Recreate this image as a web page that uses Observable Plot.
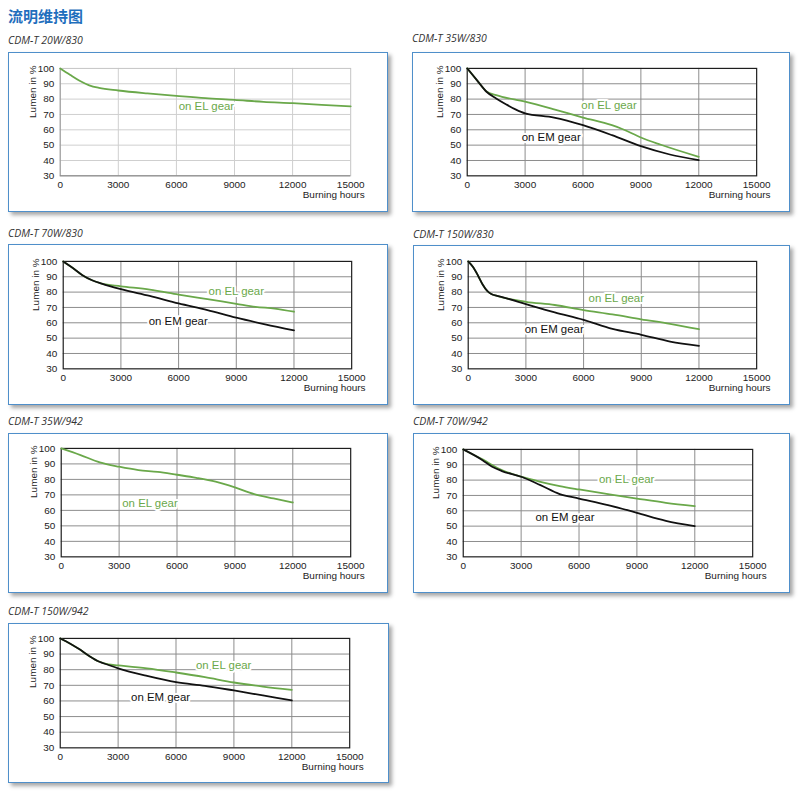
<!DOCTYPE html>
<html>
<head>
<meta charset="utf-8">
<script src="https://cdn.jsdelivr.net/npm/d3@7"></script>
<script src="https://cdn.jsdelivr.net/npm/@observablehq/plot@0.6"></script>
<style>
  body { margin: 0; background: #fff; width: 800px; height: 799px; position: relative; overflow: hidden; }
  .hdr { position: absolute; left: 8px; top: 6px; font-family: "Noto Sans CJK SC", sans-serif; font-weight: 700; font-size: 15px; color: #1f6fbd; line-height: 20px; }
  .ttl { position: absolute; font-family: "Open Sans", "Lato", sans-serif; font-style: italic; font-size: 10.5px; color: #333; line-height: 14px; }
  .box { position: absolute; box-sizing: border-box; border: 1.5px solid #4f8fca; background: #fff; box-shadow: 3px 3px 4px rgba(0,0,0,0.35); }
  .box svg { position: absolute; left: -1.5px; top: -1.5px; }
</style>
</head>
<body>
<div class="hdr">流明维持图</div>
<script>
// ---------- data ----------
const panelTitles = ["CDM-T 20W/830", "CDM-T 35W/830", "CDM-T 70W/830", "CDM-T 150W/830", "CDM-T 35W/942", "CDM-T 70W/942", "CDM-T 150W/942"];
const xTicks = [0, 3000, 6000, 9000, 12000, 15000];
const yTicks = [30, 40, 50, 60, 70, 80, 90, 100];

// CDM-T 20W/830
const p1ELHours = [0, 500, 1000, 1500, 2000, 3000, 4500, 6000, 7500, 9000, 10500, 12000, 13500, 15000];
const p1EL = [100, 95.9, 92, 89, 87.3, 85.6, 83.7, 82.1, 80.6, 79.5, 78.2, 77.4, 76.3, 75.3];
// CDM-T 35W/830
const p2EMHours = [0, 500, 1000, 1500, 2000, 2500, 3000, 4500, 6000, 7500, 9000, 10500, 12000];
const p2EM = [100, 92.4, 84.8, 80.4, 76.7, 73.3, 70.7, 68, 63, 56.5, 49.3, 43.9, 40.2];
const p2ELHours = [0, 500, 1000, 1500, 3000, 4500, 6000, 7500, 8000, 9000, 10000, 12000];
const p2EL = [100, 92.4, 85, 82.6, 78.3, 73.3, 68, 63, 60.7, 55, 50.4, 42.4];
// CDM-T 70W/830
const p3EMHours = [0, 500, 1000, 1500, 2000, 3000, 4500, 6000, 7500, 9000, 10500, 12000];
const p3EM = [100, 95.7, 91, 87.7, 85.5, 81.9, 77.5, 72.6, 68.3, 63.3, 59, 55.1];
const p3ELHours = [0, 500, 1000, 1500, 2000, 3000, 4500, 6000, 7500, 9000, 10000, 11000, 12000];
const p3EL = [100, 95.7, 91, 87.7, 85.5, 83.8, 81.6, 78.4, 75.4, 72.4, 70.4, 69.3, 67.2];
// CDM-T 150W/830
const p4EMHours = [0, 250, 500, 750, 1000, 1200, 1500, 2000, 3000, 4500, 6000, 7500, 9000, 10500, 12000];
const p4EM = [100, 96.3, 91, 85, 80.6, 78.7, 77.6, 75.9, 72.2, 66.8, 61.9, 56, 52.2, 47.8, 45];
const p4ELHours = [0, 250, 500, 750, 1000, 1200, 1500, 2000, 3000, 4500, 6000, 7500, 9000, 10500, 12000];
const p4EL = [100, 96.3, 91, 85, 80.6, 78.7, 77.6, 75.9, 73.7, 71.6, 68.3, 65.5, 62.3, 59.3, 55.8];
// CDM-T 35W/942
const p5ELHours = [0, 1000, 2000, 3000, 4000, 5000, 6000, 7000, 8000, 9000, 10000, 11000, 12000];
const p5EL = [100, 95.7, 91, 88.2, 86, 84.9, 83, 81, 78.5, 74.8, 70.5, 67.7, 65.1];
// CDM-T 70W/942
const p6EMHours = [0, 1000, 1500, 2000, 3000, 4000, 5000, 6000, 7500, 9000, 10500, 12000];
const p6EM = [100, 93, 88.7, 85.9, 82.2, 76.7, 70.9, 68, 63.7, 58.7, 53.5, 50];
const p6ELHours = [0, 1000, 2000, 3000, 4000, 5000, 6000, 7500, 9000, 10500, 12000];
const p6EL = [100, 93.5, 86.5, 82.2, 78.9, 76.1, 73.9, 70.9, 68, 65.2, 63];
// CDM-T 150W/942
const p7EMHours = [0, 500, 1000, 1500, 2000, 2500, 3000, 4500, 6000, 7500, 9000, 10500, 12000];
const p7EM = [100, 96.8, 93, 88.8, 85.2, 83, 80.9, 76, 72, 69.7, 66.7, 63.5, 60.3];
const p7ELHours = [0, 500, 1000, 1500, 2000, 2500, 3000, 4500, 6000, 7500, 9000, 10500, 12000];
const p7EL = [100, 96.8, 93, 88.8, 85.2, 83.4, 82.8, 80.9, 78.2, 75.2, 71.8, 69.2, 67.1];

// label anchors [hours, lumen]
const elLabelPos = [[7550, 75.4], [7350, 76.1], [9000, 80.5], [7700, 75.9], [4600, 64.5], [8470, 80.4], [8470, 82.6]];
const emLabelPos = [null, [4350, 55], [5980, 60.7], [4470, 55.8], null, [5270, 55.7], [5200, 62.5]];

const elSeries = [[p1ELHours, p1EL], [p2ELHours, p2EL], [p3ELHours, p3EL], [p4ELHours, p4EL], [p5ELHours, p5EL], [p6ELHours, p6EL], [p7ELHours, p7EL]];
const emSeries = [null, [p2EMHours, p2EM], [p3EMHours, p3EM], [p4EMHours, p4EM], null, [p6EMHours, p6EM], [p7EMHours, p7EM]];

// ---------- layout (box left, top, width, height, plot left, right, top, bottom; title top) ----------
const layout = [
  [8, 52, 380, 160, 60, 352, 68, 176, 33],
  [412, 52, 378, 160, 467, 758, 68, 176, 31],
  [8, 244, 380, 161, 63, 353, 261, 369, 226],
  [413, 245, 377, 160, 468, 758, 261, 369, 227],
  [8, 433, 380, 160, 61, 352, 448, 557, 414],
  [413, 433, 377, 160, 463, 754, 449, 557, 414],
  [8, 623, 381, 160, 60, 351, 638, 748, 604]
];

const GREEN = "#6aa84a";

panelTitles.forEach((title, i) => {
  const [bl, bt, bw, bh, pl, pr, pt, pb, tt] = layout[i];
  const light = i === 0;

  const t = document.createElement("div");
  t.className = "ttl";
  t.style.left = bl + "px";
  t.style.top = tt + "px";
  t.textContent = title;
  document.body.appendChild(t);

  const box = document.createElement("div");
  box.className = "box";
  box.style.left = bl + "px";
  box.style.top = bt + "px";
  box.style.width = bw + "px";
  box.style.height = bh + "px";
  document.body.appendChild(box);

  const el = elSeries[i][0].map((h, k) => ({h, v: elSeries[i][1][k]}));
  const em = emSeries[i] ? emSeries[i][0].map((h, k) => ({h, v: emSeries[i][1][k]})) : [];
  const gridColor = light ? "#cfcfcf" : "#8c8c8c";
  const frameColor = light ? "#c4c4c4" : "#1e1e1e";

  const marks = [
    Plot.gridY(yTicks.slice(1, -1), {stroke: gridColor, strokeOpacity: 1, strokeWidth: 1}),
    Plot.gridX(xTicks.slice(1, -1), {stroke: gridColor, strokeOpacity: 1, strokeWidth: 1}),
    Plot.frame({stroke: frameColor, strokeWidth: light ? 1 : 1.2})
  ];
  if (light) {
    marks.push(Plot.ruleX([0], {stroke: "#9a9a9a"}));
    marks.push(Plot.ruleY([30], {stroke: "#7a7a7a"}));
  }
  marks.push(
    Plot.axisX({ticks: xTicks, tickSize: 0, tickPadding: 5, label: null, fontSize: 10, tickFormat: d => String(d)}),
    Plot.axisY({ticks: yTicks, tickSize: 0, tickPadding: 6, label: null, fontSize: 10}),
    Plot.text(["Lumen in %"], {frameAnchor: "top-left", rotate: -90, textAnchor: "end", dx: -31, dy: -3, fontSize: 10, fill: "#222"}),
    Plot.text(["Burning hours"], {frameAnchor: "bottom-right", textAnchor: "end", dx: 14, dy: 22, fontSize: 10, fill: "#222"}),
    Plot.line(el, {x: "h", y: "v", stroke: GREEN, strokeWidth: 1.8, curve: "monotone-x"})
  );
  if (em.length) {
    marks.push(Plot.line(em, {x: "h", y: "v", stroke: "#111", strokeWidth: 1.8, curve: "monotone-x"}));
  }
  marks.push(Plot.text([{h: elLabelPos[i][0], v: elLabelPos[i][1], s: "on EL gear"}],
    {x: "h", y: "v", text: "s", fill: GREEN, fontSize: 11.5, stroke: "white", strokeWidth: 4, paintOrder: "stroke"}));
  if (emLabelPos[i]) {
    marks.push(Plot.text([{h: emLabelPos[i][0], v: emLabelPos[i][1], s: "on EM gear"}],
      {x: "h", y: "v", text: "s", fill: "#111", fontSize: 11.5, stroke: "white", strokeWidth: 4, paintOrder: "stroke"}));
  }

  const svg = Plot.plot({
    width: bw,
    height: bh,
    marginLeft: pl - bl,
    marginRight: bl + bw - pr,
    marginTop: pt - bt,
    marginBottom: bt + bh - pb,
    style: {fontFamily: "'Liberation Sans', Arial, sans-serif", fontSize: "10px", color: "#222", background: "transparent"},
    x: {domain: [0, 15000]},
    y: {domain: [30, 100]},
    marks
  });
  box.appendChild(svg);
});
</script>
</body>
</html>
